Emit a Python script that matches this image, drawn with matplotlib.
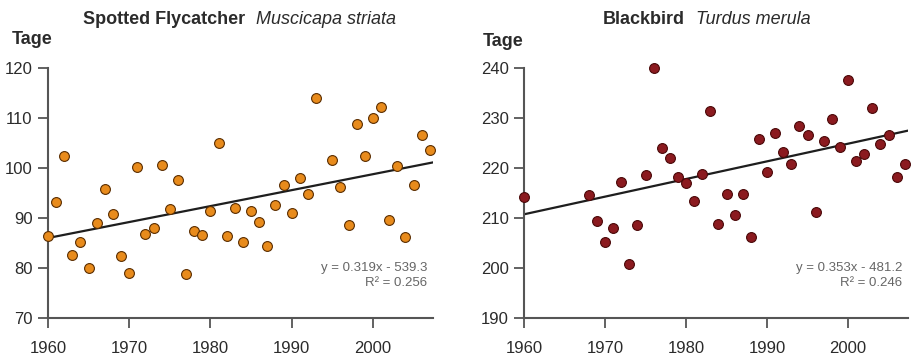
import matplotlib
matplotlib.use("Agg")
import matplotlib.pyplot as plt

plt.rcParams["font.family"] = ["Liberation Sans", "DejaVu Sans"]

# Spotted Flycatcher (Muscicapa striata)
fly_years = [1960, 1961, 1962, 1963, 1964, 1965, 1966, 1967, 1968, 1969,
             1970, 1971, 1972, 1973, 1974, 1975, 1976, 1977, 1978, 1979,
             1980, 1981, 1982, 1983, 1984, 1985, 1986, 1987, 1988, 1989,
             1990, 1991, 1992, 1993, 1995, 1996, 1997, 1998, 1999, 2000,
             2001, 2002, 2003, 2004, 2005, 2006, 2007]
fly_days = [86.3, 93.1, 102.4, 82.5, 85.1, 80.0, 89.0, 95.8, 90.8, 82.4,
            78.9, 100.2, 86.7, 87.9, 100.5, 91.7, 97.5, 78.7, 87.3, 86.6,
            91.3, 104.9, 86.3, 91.9, 85.1, 91.3, 89.2, 84.3, 92.5, 96.5,
            90.9, 98.0, 94.7, 114.0, 101.5, 96.1, 88.5, 108.7, 102.3, 109.9,
            112.1, 89.6, 100.4, 86.2, 96.5, 106.5, 103.5]
fly_fit = (0.319, -539.3, 0.256)  # slope, intercept, R^2

# Blackbird (Turdus merula)
bb_years = [1960, 1968, 1969, 1970, 1971, 1972, 1973, 1974, 1975, 1976,
            1977, 1978, 1979, 1980, 1981, 1982, 1983, 1984, 1985, 1986,
            1987, 1988, 1989, 1990, 1991, 1992, 1993, 1994, 1995, 1996,
            1997, 1998, 1999, 2000, 2001, 2002, 2003, 2004, 2005, 2006,
            2007]
bb_days = [214.1, 214.6, 209.3, 205.2, 208.0, 217.1, 200.8, 208.6, 218.5, 240.0,
           224.0, 222.0, 218.1, 217.0, 213.3, 218.7, 231.4, 208.7, 214.7, 210.6,
           214.7, 206.2, 225.7, 219.1, 226.9, 223.1, 220.7, 228.4, 226.5, 211.1,
           225.3, 229.7, 224.2, 237.5, 221.4, 222.8, 232.0, 224.7, 226.6, 218.2,
           220.7]
bb_fit = (0.353, -481.2, 0.246)

xticks = [1960, 1970, 1980, 1990, 2000]

TEXT = "#2b2b2b"
AXIS = "#555555"


def panel(ax, years, days, fit, color, edge, ylim, yticks):
    slope, icept, r2 = fit
    ax.scatter(years, days, s=50, color=color, edgecolor=edge,
               linewidth=0.8, zorder=3, clip_on=False)
    # regression line from the printed equation
    x0, x1 = 1960, 2007.3
    ax.plot([x0, x1], [slope * x0 + icept, slope * x1 + icept],
            color="#1e1e1e", lw=1.6, zorder=2)

    ax.set_xlim(1960, 2007.4)
    ax.set_ylim(*ylim)
    ax.set_xticks(xticks)
    ax.set_yticks(yticks)
    for s in ["top", "right"]:
        ax.spines[s].set_visible(False)
    for s in ["left", "bottom"]:
        ax.spines[s].set_color(AXIS)
        ax.spines[s].set_linewidth(1.5)
    ax.tick_params(axis="both", direction="out", length=7, width=1.3, color=AXIS,
                   labelsize=12, labelcolor=TEXT)
    ax.tick_params(axis="x", pad=10)
    ax.tick_params(axis="y", pad=4)

    sign = "-" if icept < 0 else "+"
    ax.text(0.985, 0.17, f"y = {slope:.3f}x {sign} {abs(icept):.1f}\nR\u00b2 = {r2:.3f}",
            transform=ax.transAxes, ha="right", va="center", fontsize=9.5,
            color="#666666", linespacing=1.35)


fig = plt.figure(figsize=(9.13, 3.61), dpi=100)
ax1 = fig.add_axes([48 / 913, 43.3 / 361, 385 / 913, 250 / 361])
ax2 = fig.add_axes([524 / 913, 43.3 / 361, 384 / 913, 250 / 361])

panel(ax1, fly_years, fly_days, fly_fit, "#e88b1c", "#5a2d00",
      (70, 120), range(70, 121, 10))
panel(ax2, bb_years, bb_days, bb_fit, "#8b1a1f", "#4a0808",
      (190, 240), range(190, 241, 10))

# titles: bold common name followed by italic scientific name
for x, bold, italic in [(83, "Spotted Flycatcher", "Muscicapa striata"),
                        (603, "Blackbird", "Turdus merula")]:
    b = fig.text(x / 913, 1 - 20 / 361, bold, fontsize=13, fontweight="bold",
                 color=TEXT, ha="left", va="center")
    fig.canvas.draw()
    ext = b.get_window_extent()
    fig.text((ext.x1 + 11) / 913, 1 - 20 / 361, italic, fontsize=13, style="italic",
             color=TEXT, ha="left", va="center")

fig.text(12 / 913, 1 - 40 / 361, "Tage", fontsize=13, fontweight="bold",
         color=TEXT, ha="left", va="center")
fig.text(483 / 913, 1 - 41 / 361, "Tage", fontsize=13, fontweight="bold",
         color=TEXT, ha="left", va="center")

fig.savefig("out.png", dpi=100, facecolor="white")
